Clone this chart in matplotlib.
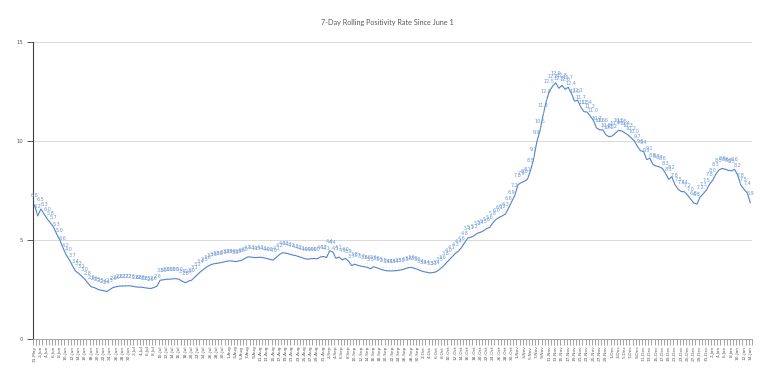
import matplotlib
matplotlib.use('Agg')
import matplotlib.pyplot as plt
import numpy as np
import pandas as pd

# 7-day rolling positivity (%) for each day, 31-May-2020 .. 14-Jan-2021
rate = [
    6.75, 6.2, 6.55, 6.3, 6.05, 5.85, 5.65, 5.3, 5.0, 4.6,
    4.25, 4.0, 3.7, 3.42, 3.3, 3.15, 3.0, 2.8, 2.62, 2.58,
    2.5, 2.45, 2.42, 2.38, 2.48, 2.58, 2.62, 2.65, 2.66, 2.66,
    2.67, 2.65, 2.62, 2.6, 2.6, 2.57, 2.55, 2.53, 2.58, 2.65,
    2.95, 2.97, 3.0, 3.0, 3.02, 3.03, 3.0, 2.9, 2.82, 2.9,
    2.95, 3.1, 3.25, 3.4, 3.52, 3.64, 3.72, 3.78, 3.8, 3.83,
    3.86, 3.9, 3.93, 3.92, 3.89, 3.92, 3.96, 4.05, 4.13, 4.12,
    4.09, 4.1, 4.11, 4.08, 4.05, 4.0, 3.97, 4.1, 4.25, 4.34,
    4.32, 4.28, 4.23, 4.2, 4.15, 4.1, 4.04, 4.01, 4.04, 4.05,
    4.03, 4.12, 4.15, 4.1, 4.44, 4.38, 4.06, 4.12, 3.98, 4.05,
    3.92, 3.69, 3.76, 3.7, 3.66, 3.63, 3.6, 3.53, 3.63, 3.58,
    3.52, 3.47, 3.43, 3.42, 3.42, 3.43, 3.45, 3.48, 3.53, 3.58,
    3.6, 3.55, 3.5, 3.43, 3.38, 3.35, 3.32, 3.34, 3.38, 3.5,
    3.63, 3.8, 3.97, 4.13, 4.3, 4.42, 4.6, 4.85, 5.08, 5.13,
    5.2, 5.32, 5.37, 5.45, 5.56, 5.62, 5.85, 6.02, 6.13, 6.2,
    6.3, 6.6, 6.92, 7.25, 7.78, 7.88, 7.95, 8.05, 8.5, 9.1,
    9.95, 10.5, 11.3, 12.0, 12.5, 12.75, 12.93, 12.65, 12.8, 12.6,
    12.7, 12.4, 12.0, 12.05, 11.7, 11.47, 11.45, 11.25, 11.03, 10.65,
    10.55, 10.55, 10.3, 10.2, 10.24, 10.38, 10.52, 10.5, 10.4, 10.3,
    10.15, 10.0, 9.72, 9.5, 9.45, 9.05, 9.12, 8.8, 8.72, 8.68,
    8.6, 8.35, 8.05, 8.18, 7.78, 7.55, 7.43, 7.42, 7.25, 7.05,
    6.85, 6.8, 7.15, 7.32, 7.5, 7.8, 8.0, 8.3, 8.52, 8.6,
    8.56, 8.5, 8.48, 8.55, 8.25, 7.75, 7.55, 7.37, 6.87,
]
dates = pd.date_range('2020-05-31', periods=len(rate), freq='D')
date_labels = [f"{d.day}-{d.strftime('%b')}" for d in dates]
y_ticks = [0, 5, 10, 15]

line_col = '#5282cc'
label_col = '#6d98d8'
txt_col = '#595959'

fig = plt.figure(figsize=(7.68, 3.8), dpi=100)
ax = fig.add_axes([0.043, 0.109, 0.936, 0.781])

x = np.arange(len(rate))
ax.plot(x, rate, color=line_col, lw=0.8, zorder=3)

# data labels above every point, with faint leader lines
for xi, v in zip(x, rate):
    ax.annotate(f'{v:.1f}', (xi, v), xytext=(0, 5), textcoords='offset points',
                ha='center', va='bottom', fontsize=3.5, color=label_col, zorder=4,
                arrowprops=dict(arrowstyle='-', color='#e3e3e3', lw=0.3,
                                shrinkA=0, shrinkB=1))

ax.set_xlim(-0.5, len(rate) - 0.5)
ax.set_ylim(0, 15)
ax.set_yticks(y_ticks)
ax.set_yticklabels([str(t) for t in y_ticks], fontsize=3.8, color=txt_col)
ax.set_xticks(x[::2])
ax.set_xticklabels(date_labels[::2], rotation=90, fontsize=3.2, color=txt_col)
ax.set_xticks(np.arange(len(rate) + 1) - 0.5, minor=True)
ax.tick_params(axis='x', which='major', length=0, pad=5)
ax.tick_params(axis='x', which='minor', length=4, width=0.5, color='#7f7f7f')
ax.tick_params(axis='y', length=4, width=0.6, color='#404040', pad=3)

ax.grid(axis='y', color='#d9d9d9', lw=0.7, zorder=0)
ax.set_axisbelow(True)
for s in ['top', 'right']:
    ax.spines[s].set_visible(False)
ax.spines['left'].set_color('#404040')
ax.spines['left'].set_linewidth(0.8)
ax.spines['bottom'].set_color('#a6a6a6')
ax.spines['bottom'].set_linewidth(0.7)

fig.text(0.505, 0.942, '7-Day Rolling Positivity Rate Since June 1', ha='center', va='center',
         fontsize=5.2, color=txt_col, family='Lato')

fig.savefig('out.png', dpi=100)
